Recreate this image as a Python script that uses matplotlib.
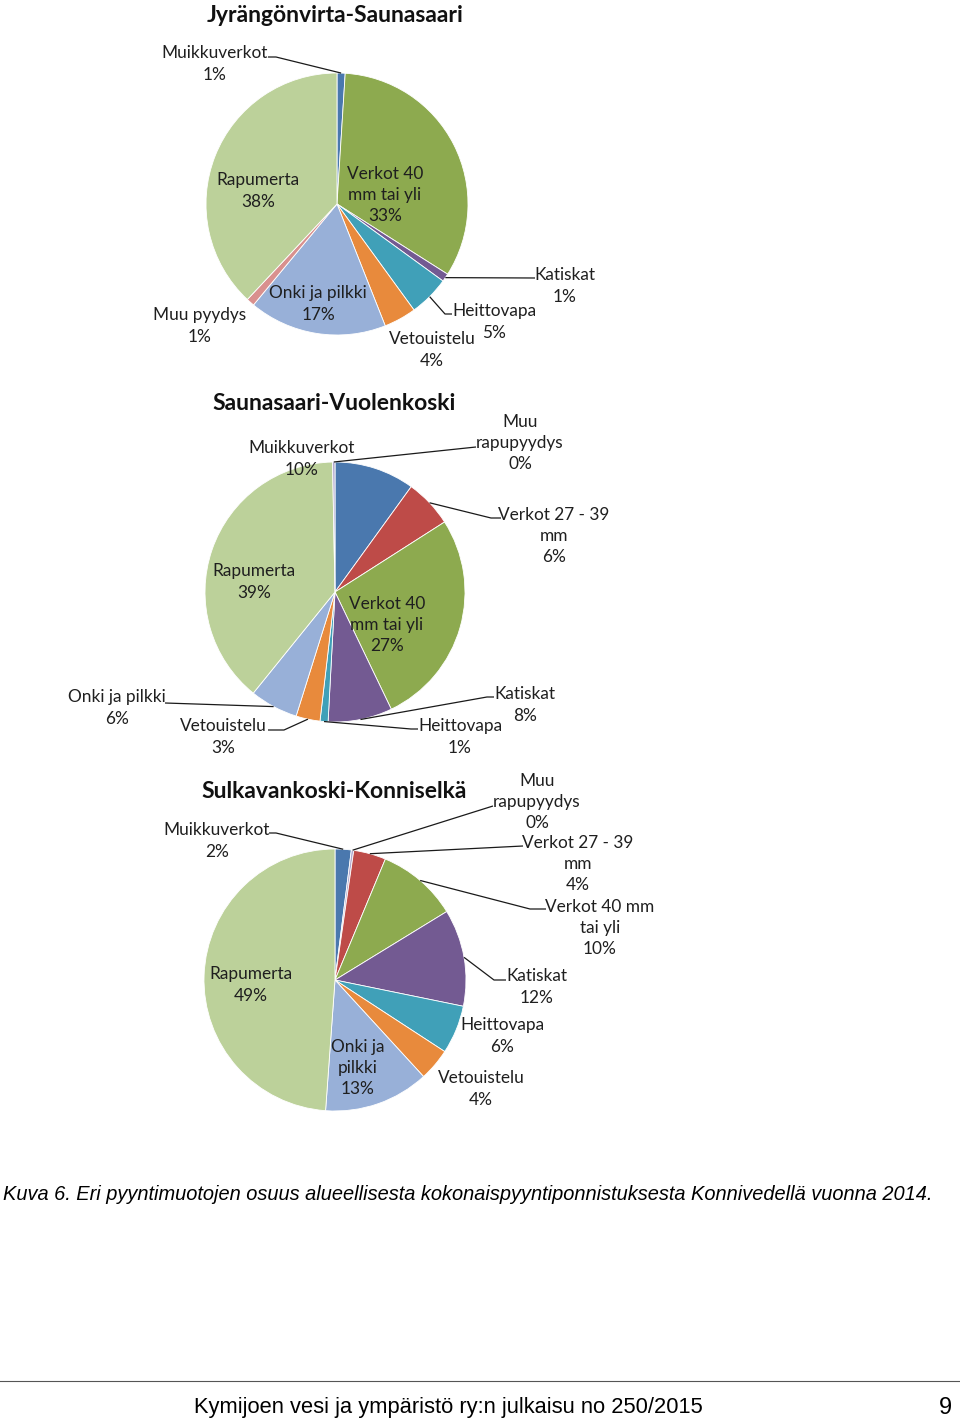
import numpy as np
import matplotlib
matplotlib.use("Agg")
import matplotlib.pyplot as plt
from matplotlib import font_manager

W, H = 960, 1421

# ---------------- data ----------------
titles = ["Jyrängönvirta-Saunasaari", "Saunasaari-Vuolenkoski", "Sulkavankoski-Konniselkä"]

cats1 = ["Muikkuverkot", "Verkot 40 mm tai yli", "Katiskat", "Heittovapa",
         "Vetouistelu", "Onki ja pilkki", "Muu pyydys", "Rapumerta"]
vals1 = [1, 33, 1, 5, 4, 17, 1, 38]
labels1 = ["Muikkuverkot", "Verkot 40\nmm tai yli", "Katiskat", "Heittovapa",
           "Vetouistelu", "Onki ja pilkki", "Muu pyydys", "Rapumerta"]

cats2 = ["Muikkuverkot", "Verkot 27 - 39 mm", "Verkot 40 mm tai yli", "Katiskat",
         "Heittovapa", "Vetouistelu", "Onki ja pilkki", "Rapumerta", "Muu rapupyydys"]
vals2 = [10, 6, 27, 8, 1, 3, 6, 39, 0.3]
labels2 = ["Muikkuverkot", "Verkot 27 - 39\nmm", "Verkot 40\nmm tai yli", "Katiskat",
           "Heittovapa", "Vetouistelu", "Onki ja pilkki", "Rapumerta", "Muu\nrapupyydys"]

cats3 = ["Muikkuverkot", "Muu rapupyydys", "Verkot 27 - 39 mm", "Verkot 40 mm tai yli",
         "Katiskat", "Heittovapa", "Vetouistelu", "Onki ja pilkki", "Rapumerta"]
vals3 = [2, 0.3, 4, 10, 12, 6, 4, 13, 49]
labels3 = ["Muikkuverkot", "Muu\nrapupyydys", "Verkot 27 - 39\nmm", "Verkot 40 mm\ntai yli",
           "Katiskat", "Heittovapa", "Vetouistelu", "Onki ja\npilkki", "Rapumerta"]

caption = ("Kuva 6. Eri pyyntimuotojen osuus alueellisesta kokonaispyyntiponnistuksesta "
           "Konnivedellä vuonna 2014.")
footer = "Kymijoen vesi ja ympäristö ry:n julkaisu no 250/2015"
page_no = "9"

# ---------------- styles ----------------
colors = {
    "Muikkuverkot": "#4A78AE",
    "Verkot 27 - 39 mm": "#BE4B48",
    "Verkot 40 mm tai yli": "#8DAA4F",
    "Katiskat": "#735A92",
    "Heittovapa": "#40A0B8",
    "Vetouistelu": "#E88A3C",
    "Onki ja pilkki": "#98B0D8",
    "Muu pyydys": "#D9908E",
    "Rapumerta": "#BCD19A",
    "Muu rapupyydys": "#B0A8CE",
}

# layout: pie centre/radius (image px), label positions, leader anchor points
pies = [
    dict(title_xy=(335, 15), center=(337, 204), r=131,
         cats=cats1, vals=vals1, labels=labels1,
         pos=[(215, 62), (385, 193), (565, 284), (494, 320),
              (432, 348), (318, 302), (200, 324), (258, 189)],
         leaders={0: [(268, 57), (276, 57)], 2: [(535, 278)],
                  3: [(452, 314), (445, 314)]}),
    dict(title_xy=(334, 402), center=(335, 592), r=130,
         cats=cats2, vals=vals2, labels=labels2,
         pos=[(302, 457), (554, 534), (387, 623), (525, 703), (460, 735),
              (223, 735), (117, 706), (254, 580), (520, 441)],
         leaders={1: [(501, 518), (491, 518)], 3: [(494, 697), (487, 697)],
                  4: [(418, 729), (411, 729)], 5: [(268, 730), (284, 730)],
                  6: [(165, 703)], 8: [(476, 447)]}),
    dict(title_xy=(334, 790), center=(335, 980), r=131,
         cats=cats3, vals=vals3, labels=labels3,
         pos=[(217, 839), (537, 800), (578, 862), (600, 926), (537, 985),
              (502, 1034), (481, 1087), (358, 1066), (251, 983)],
         leaders={0: [(269, 833), (276, 833)], 1: [(493, 806)],
                  2: [(523, 846)], 3: [(546, 909), (530, 909)],
                  4: [(506, 980), (494, 980)]}),
]

label_font = "Lato"
text_col = "#1f1f1f"
dy_txt = 2  # small downward nudge of label text

fig = plt.figure(figsize=(W / 100, H / 100), dpi=100)
ax = fig.add_axes([0, 0, 1, 1])


def Y(y):
    return H - y


for k, p in enumerate(pies):
    cx, cy = p["center"]
    wedges, _ = ax.pie(p["vals"], colors=[colors[c] for c in p["cats"]],
                       startangle=90, counterclock=False,
                       center=(cx, Y(cy)), radius=p["r"],
                       wedgeprops=dict(edgecolor="white", linewidth=0.6))
    tx, ty = p["title_xy"]
    ax.text(tx, Y(ty + 1), titles[k], ha="center", va="center",
            fontsize=16.5, fontweight="bold", family=label_font, color="#111111")
    for i, (w, lab, v) in enumerate(zip(wedges, p["labels"], p["vals"])):
        x, y = p["pos"][i]
        ax.text(x, Y(y + dy_txt), f"{lab}\n{v:.0f}%", ha="center", va="center",
                multialignment="center", fontsize=12.4, family=label_font,
                color=text_col, linespacing=1.42)
        if i in p["leaders"]:
            ang = np.deg2rad((w.theta1 + w.theta2) / 2)
            ex = cx + p["r"] * np.cos(ang)
            ey = Y(cy) + p["r"] * np.sin(ang)
            pts = [(a, Y(b)) for a, b in p["leaders"][i]] + [(ex, ey)]
            xs, ys = zip(*pts)
            ax.plot(xs, ys, color="#1a1a1a", linewidth=0.9, solid_capstyle="butt")

# caption & footer
avail = {f.name for f in font_manager.fontManager.ttflist}
narrow = "Liberation Sans Narrow" if "Liberation Sans Narrow" in avail else "Liberation Sans"

cap = ax.text(3, Y(1195), caption, ha="left", va="center", fontsize=13.5,
              style="italic", family=narrow, color="black")
foot = ax.text(448, Y(1408), footer, ha="center", va="center", fontsize=17,
               family=narrow, color="black")
ax.text(945, Y(1408), page_no, ha="center", va="center", fontsize=17,
        family=narrow, color="black")
ax.plot([0, 960], [Y(1381), Y(1381)], color="#555555", linewidth=0.8)

ax.set_xlim(0, W)
ax.set_ylim(0, H)
ax.set_aspect("equal")
ax.axis("off")

# fit caption/footer widths to the reference
fig.canvas.draw()
r = fig.canvas.get_renderer()
for t, target in ((cap, 927), (foot, 510)):
    wdt = t.get_window_extent(r).width
    t.set_fontsize(t.get_fontsize() * target / wdt)

fig.savefig("out.png", dpi=100)
